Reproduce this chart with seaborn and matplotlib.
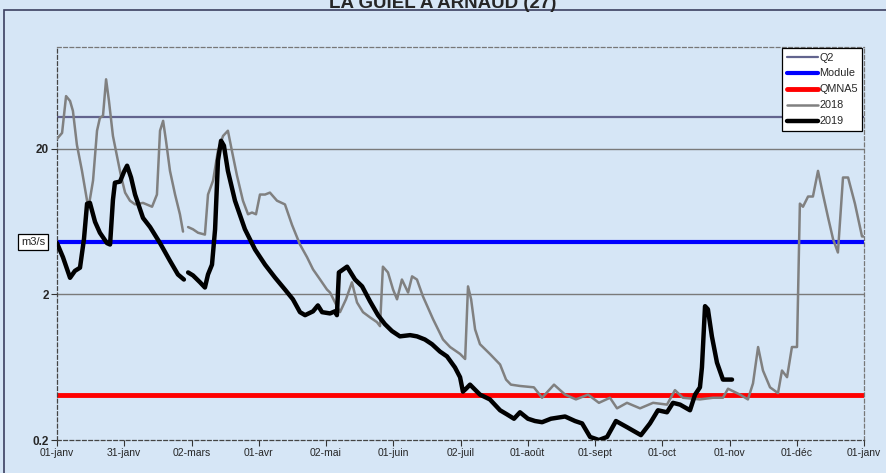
import numpy as np
import pandas as pd
import matplotlib
matplotlib.use("Agg")
import matplotlib.pyplot as plt
from matplotlib.lines import Line2D
from matplotlib.patches import Rectangle
import seaborn as sns

# Values (day of year, flow in m3/s)
days_2019 = [0, 2.7, 5.9, 8.1, 10.4, 12.2, 13.6, 14.9, 17.2, 19.4, 22.6, 24.0, 25.3, 26.2, 28.5,
             30.3, 31.7, 33.5, 35.3, 38.9, 42.1, 46.6, 51.1, 54.7, 57.4,
             59.3, 61.5, 64.7, 66.9, 68.3, 70.1, 71.5, 72.8, 74.2, 75.5, 77.3, 80.5, 85.0, 89.6,
             94.1, 98.6, 103.1, 106.7, 109.9, 112.2, 115.8, 118.0, 119.9, 123.5, 125.7, 126.6,
             127.5, 131.2, 134.8, 138.0, 141.6, 145.2, 148.3, 151.5, 155.1, 159.7, 162.8, 166.4,
             169.6, 173.2, 176.4, 180.0, 182.3, 183.6, 185.0, 186.8, 191.3, 195.8, 200.4, 203.5,
             206.7, 209.4, 213.0, 216.2, 219.4, 223.4, 229.8, 234.3, 237.5, 241.1, 245.1, 248.8,
             252.8, 257.8, 264.1, 268.2, 271.8, 275.9, 278.6, 281.8, 286.3, 288.6, 290.8, 291.7,
             293.1, 294.4, 296.2, 298.5, 301.2, 305.3]
flow_2019 = [4.5, 3.6, 2.6, 2.9, 3.05, 4.8, 8.4, 8.5, 6.3, 5.3, 4.5, 4.4, 8.9, 11.7, 11.9,
             13.9, 15.3, 12.7, 9.7, 6.7, 5.8, 4.5, 3.4, 2.74, 2.53,
             2.83, 2.7, 2.42, 2.23, 2.74, 3.2, 5.6, 16.6, 22.7, 21.0, 14.1, 8.8, 5.6, 4.06,
             3.2, 2.61, 2.16, 1.85, 1.51, 1.44, 1.53, 1.68, 1.51, 1.48, 1.53, 1.44,
             2.83, 3.1, 2.53, 2.27, 1.79, 1.44, 1.25, 1.12, 1.03, 1.05, 1.03, 0.98,
             0.91, 0.81, 0.75, 0.63, 0.54, 0.43, 0.45, 0.48, 0.41, 0.38, 0.32, 0.30,
             0.28, 0.31, 0.28, 0.27, 0.265, 0.28, 0.29, 0.27, 0.26, 0.21, 0.20, 0.21,
             0.27, 0.245, 0.216, 0.26, 0.32, 0.31, 0.36, 0.35, 0.32, 0.41, 0.46, 0.63,
             1.66, 1.58, 1.03, 0.68, 0.52, 0.52]

days_2018 = [0, 2.3, 4.1, 5.9, 7.2, 9.0, 11.3, 13.6, 14.5, 16.3, 18.1, 19.4, 20.8, 22.2, 23.5,
             25.3, 27.1, 28.9, 30.8, 33.0, 35.3, 38.9, 43.0, 45.2, 46.6, 48.0, 49.3, 51.1,
             53.4, 55.6, 57.0,
             59.3, 61.5, 63.8, 66.9, 68.3, 70.6, 72.8, 75.1, 77.3, 79.1, 81.4, 84.1, 86.4,
             88.2, 90.0, 91.8, 94.1, 96.3, 99.5, 103.1, 106.3, 109.9, 113.1, 115.8, 119.0,
             122.1, 123.5, 126.6, 128.0, 130.7, 133.4, 135.7, 138.4, 141.6, 144.7, 146.1,
             147.4, 149.7, 152.0, 153.8, 156.0, 158.8, 160.6, 162.8, 165.5, 170.1, 174.6,
             177.8, 182.3, 184.6, 185.9, 187.3, 189.1, 191.3, 195.8, 200.4, 203.1, 205.3,
             209.4, 215.7, 219.4, 224.8, 229.8, 234.7, 240.2, 245.1, 250.1, 253.3, 257.8,
             263.7, 269.6, 275.9, 279.5, 283.1, 290.8, 296.7, 301.2, 303.5, 308.9, 312.5,
             314.8, 317.1, 319.3, 322.5, 326.1, 327.9, 330.2, 332.4, 334.7, 336.0, 337.4,
             339.7, 341.9, 344.2, 346.4, 348.7, 351.0, 353.2, 355.5, 357.8, 360.9, 364.1, 365]
flow_2018 = [23.4, 25.7, 46.0, 42.6, 36.4, 21.3, 14.1, 8.8, 8.3, 12.1, 26.6, 32.6, 33.7, 60.0, 42.6,
             24.5, 17.9, 13.1, 10.0, 8.8, 8.3, 8.5, 8.0, 9.7, 26.6, 31.1, 22.7, 14.1,
             9.7, 7.1, 5.4,
             5.8, 5.6, 5.3, 5.15, 9.7, 12.1, 19.4, 24.5, 26.6, 19.4, 13.1, 8.8, 7.1,
             7.3, 7.1, 9.7, 9.7, 10.0, 8.8, 8.3, 6.0, 4.4, 3.6, 2.97, 2.53,
             2.16, 2.06, 1.66, 1.51, 1.85, 2.42, 1.76, 1.51, 1.39, 1.29, 1.21,
             3.1, 2.83, 2.16, 1.85, 2.53, 2.06, 2.66, 2.53, 1.94, 1.35, 0.98,
             0.87, 0.78, 0.72, 2.27, 1.85, 1.15, 0.91, 0.78, 0.66, 0.52, 0.48,
             0.47, 0.46, 0.39, 0.48, 0.41, 0.38, 0.41, 0.36, 0.39, 0.33, 0.36,
             0.33, 0.36, 0.35, 0.44, 0.39, 0.38, 0.39, 0.39, 0.45, 0.41, 0.38,
             0.49, 0.87, 0.60, 0.46, 0.42, 0.60, 0.54, 0.87, 0.87, 8.4, 8.0,
             9.4, 9.4, 14.1, 9.8, 6.8, 4.8, 3.88, 12.7, 12.7, 8.4, 5.0, 5.0]

# missing data at the end of February splits each year into two pieces
gap_day = 58

q2 = 33.0
module = 4.6
qmna5 = 0.41

tick_labels = ["01-janv", "31-janv", "02-mars", "01-avr", "02-mai", "01-juin", "02-juil",
               "01-août", "01-sept", "01-oct", "01-nov", "01-déc", "01-janv"]
title = "LA GUIEL A ARNAUD (27)"

df18 = pd.DataFrame({"day": days_2018, "flow": flow_2018})
df18["seg"] = (df18["day"] > gap_day).astype(int)
df19 = pd.DataFrame({"day": days_2019, "flow": flow_2019})
df19["seg"] = (df19["day"] > gap_day).astype(int)

sns.set_style("white")
plt.rcParams["font.family"] = ["Liberation Sans", "DejaVu Sans"]

bg = "#d6e6f6"
fig = plt.figure(figsize=(8.86, 4.73), dpi=100, facecolor=bg)
ax = fig.add_axes([57 / 886, 1 - 440 / 473, 807 / 886, 393 / 473])
ax.set_facecolor(bg)

# outer chart frame
fig.patches.append(Rectangle((4 / 886, -0.01), 0.999, 1 - 10 / 473 + 0.01, transform=fig.transFigure,
                             fill=False, edgecolor="#3c4060", linewidth=1.2))

ax.set_yscale("log")
ax.set_xlim(0, 365)
ax.set_ylim(0.2, 100)

# grid lines at 2 and 20
for g in [2, 20]:
    ax.axhline(g, color="#7a7a7a", linewidth=1.0, zorder=1)

ax.axhline(q2, color="#62648e", linewidth=1.6, zorder=2)
ax.axhline(module, color="#0000ff", linewidth=3.0, zorder=2)
ax.axhline(qmna5, color="#ff0000", linewidth=3.5, zorder=2)

sns.lineplot(data=df18, x="day", y="flow", units="seg", estimator=None, ax=ax,
             color="#808080", linewidth=1.8, zorder=3)
sns.lineplot(data=df19, x="day", y="flow", units="seg", estimator=None, ax=ax,
             color="#000000", linewidth=3.2, zorder=4)

ax.set_xlabel("")
ax.set_ylabel("")
ax.set_xticks(np.linspace(0, 365, 13))
ax.set_xticklabels(tick_labels, fontsize=7.5, family=["Liberation Sans Narrow", "Liberation Sans"])
ax.set_yticks([0.2, 2, 20])
ax.set_yticklabels(["0.2", "2", "20"], fontsize=8.5, fontweight="bold")
ax.yaxis.set_minor_locator(matplotlib.ticker.NullLocator())
ax.tick_params(axis="both", which="major", direction="out", length=4, width=0.8,
               color="#333333", pad=2, left=True, bottom=True)

for side, sp in ax.spines.items():
    sp.set_visible(True)
    sp.set_linestyle((0, (3, 2)))
    sp.set_linewidth(0.9)
    sp.set_color("#777777" if side in ("top", "right") else "#444444")

handles = [
    Line2D([], [], color="#62648e", linewidth=1.6),
    Line2D([], [], color="#0000ff", linewidth=3.0),
    Line2D([], [], color="#ff0000", linewidth=3.5),
    Line2D([], [], color="#808080", linewidth=1.8),
    Line2D([], [], color="#000000", linewidth=3.2),
]
leg = ax.legend(handles, ["Q2", "Module", "QMNA5", "2018", "2019"], loc="upper right",
                bbox_to_anchor=(0.9975, 0.997), prop={"size": 7.8, "stretch": "expanded"},
                frameon=True, fancybox=False,
                edgecolor="black", framealpha=1, handlelength=2.9, handletextpad=0.1,
                labelspacing=0.55, borderpad=0.4, borderaxespad=0)
leg.get_frame().set_linewidth(0.9)

fig.text(33 / 886, 1 - 242 / 473, "m3/s", ha="center", va="center", fontsize=8,
         bbox=dict(boxstyle="square,pad=0.25", facecolor="white", edgecolor="black", linewidth=0.9))

fig.text(0.5, 1 - 8 / 473, title, ha="center", va="baseline", fontsize=13.5, fontweight="bold")

fig.savefig("out.png", dpi=100, facecolor=bg)
